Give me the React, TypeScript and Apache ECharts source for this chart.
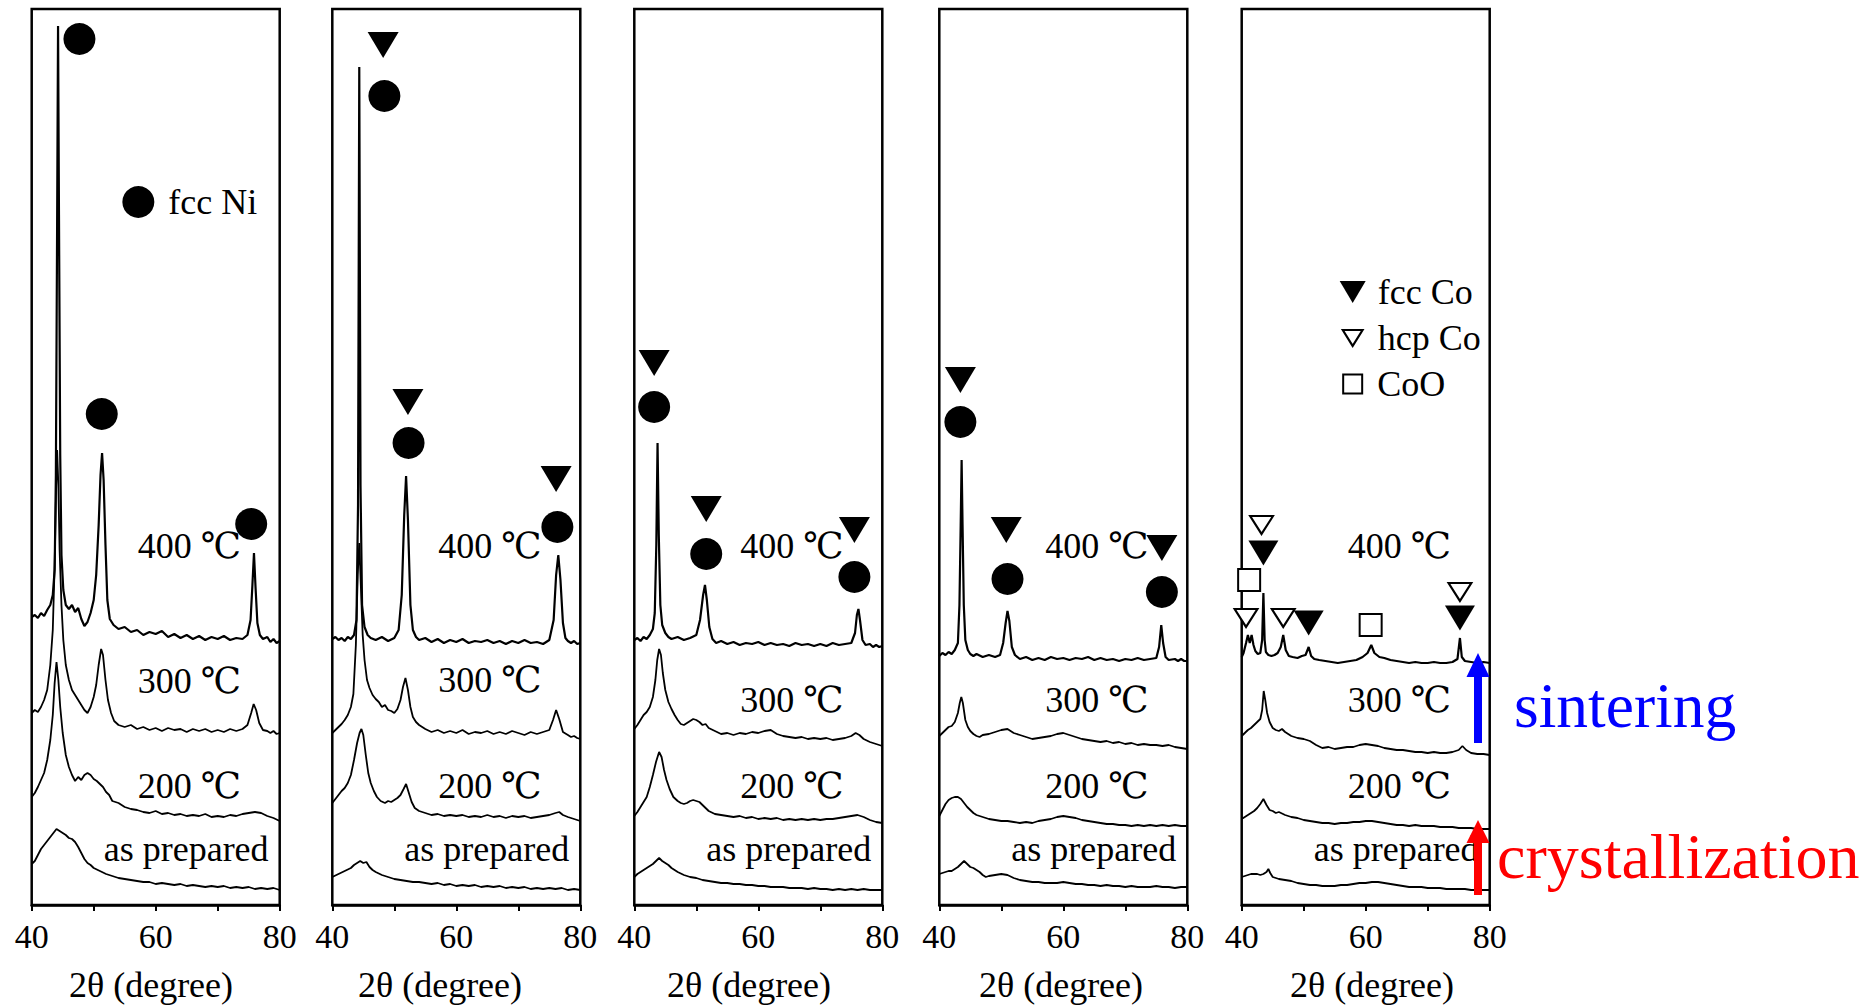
import React, { useEffect, useRef } from "react";
import * as echarts from "echarts";

// ---------- data (2θ in degrees, intensity in arbitrary offset units) ----------
const xTicks = [40, 50, 60, 70, 80];
const tempLabels = ["400 ℃", "300 ℃", "200 ℃", "as prepared"];

const p1_400 = [[40,288],[40.5,290],[41,287],[41.5,292],[42,289],[42.5,295],[43,300],[43.4,310],[43.7,335],[43.9,430],[44.1,680],[44.25,879],[44.4,690],[44.6,450],[44.8,350],[45.1,315],[45.5,300],[46,296],[46.5,300],[47,293],[47.5,297],[48,286],[48.5,279],[49,283],[49.5,292],[50,305],[50.4,330],[50.8,380],[51.1,430],[51.35,452],[51.6,425],[51.9,360],[52.2,305],[52.6,286],[53.2,280],[54,276],[55,278],[56,273],[57,275],[58,270],[59,273],[60,271],[61,274],[62,268],[63,271],[64,267],[65,270],[66,266],[67,269],[68,265],[69,268],[70,266],[71,269],[72,265],[73,267],[74,266],[74.8,270],[75.3,285],[75.6,320],[75.85,352],[76.1,318],[76.4,282],[76.8,270],[77.3,266],[78,268],[78.5,263],[79,266],[79.5,262],[80,264]];
const p1_300 = [[40,192],[40.5,195],[41,193],[41.5,198],[42,205],[42.5,215],[43,240],[43.4,275],[43.7,340],[43.95,420],[44.1,455],[44.3,420],[44.5,355],[44.8,300],[45.1,265],[45.5,240],[46,225],[46.5,215],[47,210],[47.5,205],[48,200],[48.5,195],[49,192],[49.5,198],[50,208],[50.4,220],[50.8,240],[51.2,256],[51.5,250],[51.9,225],[52.3,205],[52.8,192],[53.3,184],[54,180],[55,178],[56,180],[57,176],[58,178],[59,175],[60,177],[61,174],[62,177],[63,175],[64,176],[65,173],[66,176],[67,174],[68,176],[69,173],[70,175],[71,173],[72,176],[73,174],[74,176],[74.8,180],[75.4,192],[75.8,201],[76.2,195],[76.7,182],[77.3,175],[78,174],[78.5,172],[79,174],[79.5,171],[80,172]];
const p1_200 = [[40,108],[40.5,112],[41,118],[41.5,125],[42,132],[42.5,145],[43,165],[43.4,190],[43.7,222],[44,243],[44.3,225],[44.6,198],[45,172],[45.5,150],[46,138],[46.5,130],[47,124],[47.5,128],[48,125],[48.5,130],[49,132],[49.5,130],[50,126],[50.5,124],[51,121],[51.5,118],[52,113],[52.5,110],[53,104],[54,102],[55,98],[56,96],[57,95],[58,93],[59,92],[60,94],[61,91],[62,92],[63,90],[64,91],[65,89],[66,90],[67,89],[68,91],[69,88],[70,89],[71,88],[72,90],[73,89],[74,91],[75,92],[76,93],[77,92],[78,89],[79,87],[80,84]];
const p1_prep = [[40,41],[40.5,44],[41,50],[41.5,56],[42,60],[42.5,64],[43,68],[43.5,72],[44,76],[44.5,74],[45,72],[45.5,70],[46,67],[46.5,66],[47,63],[47.5,58],[48,52],[48.5,46],[49,42],[49.5,40],[50,37],[51,34],[52,31],[53,29],[54,27],[55,26],[56,25],[57,24],[58,23],[59,23],[60,21],[61,22],[62,21],[63,20],[64,21],[65,19],[66,20],[67,19],[68,18],[69,19],[70,18],[71,19],[72,17],[73,18],[74,17],[75,18],[76,16],[77,17],[78,16],[79,17],[80,15]];

const p2_400 = [[40,266],[40.5,268],[41,265],[41.5,267],[42,264],[42.5,268],[43,266],[43.5,270],[43.9,285],[44.15,400],[44.35,838],[44.55,420],[44.8,300],[45.2,278],[45.7,270],[46.2,267],[47,265],[48,268],[49,264],[50,267],[50.7,275],[51.2,310],[51.6,390],[51.9,429],[52.2,385],[52.6,300],[53,275],[53.5,268],[54,265],[55,267],[56,263],[57,266],[58,262],[59,265],[60,263],[61,266],[62,262],[63,264],[64,263],[65,265],[66,262],[67,264],[68,261],[69,264],[70,262],[71,265],[72,262],[73,263],[74,261],[75,265],[75.7,285],[76.1,330],[76.45,350],[76.8,325],[77.2,282],[77.6,267],[78,264],[78.5,262],[79,264],[79.5,261],[80,262]];
const p2_300 = [[40,172],[40.5,175],[41,178],[41.5,181],[42,185],[42.5,190],[43,198],[43.4,211],[43.8,260],[44.1,330],[44.35,362],[44.6,320],[44.9,270],[45.2,245],[45.6,225],[46,217],[46.5,210],[47,206],[47.5,203],[48,198],[48.5,200],[49,195],[49.5,194],[50,192],[50.5,196],[51,205],[51.4,218],[51.8,227],[52.2,215],[52.6,198],[53,188],[53.5,183],[54,180],[55,176],[56,173],[57,175],[58,172],[59,174],[60,172],[61,175],[62,171],[63,173],[64,172],[65,174],[66,171],[67,173],[68,171],[69,174],[70,172],[71,170],[72,173],[73,171],[74,173],[75,175],[75.6,185],[76.1,195],[76.6,186],[77.2,173],[78,170],[78.5,168],[79,169],[79.5,167],[80,166]];
const p2_200 = [[40,102],[40.5,106],[41,110],[41.5,114],[42,117],[42.5,122],[43,130],[43.5,145],[44,162],[44.4,172],[44.7,176],[45,170],[45.4,150],[45.8,132],[46.2,122],[46.7,114],[47.2,108],[47.8,104],[48.5,102],[49,104],[49.5,103],[50,105],[50.5,107],[51,110],[51.5,116],[51.9,121],[52.3,113],[52.8,103],[53.3,97],[54,94],[55,92],[56,90],[57,91],[58,89],[59,90],[60,89],[61,90],[62,88],[63,89],[64,88],[65,90],[66,88],[67,89],[68,87],[69,89],[70,88],[71,89],[72,87],[73,88],[74,89],[75,90],[76,92],[76.6,93],[77.2,90],[78,88],[79,86],[80,84]];
const p2_prep = [[40,28],[41,31],[42,34],[43,37],[43.5,40],[44,42],[44.5,44],[45,42],[45.5,43],[46,38],[46.5,35],[47,33],[48,30],[49,28],[50,26],[51,25],[52,24],[53,23],[54,23],[55,22],[56,21],[57,22],[58,20],[59,21],[60,19],[61,20],[62,19],[63,20],[64,18],[65,19],[66,18],[67,19],[68,17],[69,18],[70,17],[71,18],[72,16],[73,17],[74,16],[75,17],[76,16],[77,17],[78,15],[79,16],[80,15]];

const p3_400 = [[40,265],[40.5,267],[41,264],[41.5,268],[42,266],[42.5,270],[43,276],[43.3,292],[43.55,360],[43.75,462],[43.95,370],[44.2,300],[44.5,280],[45,272],[45.5,268],[46,266],[47,268],[48,265],[49,267],[50,270],[50.6,285],[51.1,310],[51.4,320],[51.7,305],[52.1,278],[52.6,266],[53.2,262],[54,264],[55,261],[56,263],[57,260],[58,262],[59,261],[60,263],[61,260],[62,262],[63,260],[64,261],[65,259],[66,262],[67,260],[68,261],[69,259],[70,261],[71,259],[72,262],[73,260],[74,261],[75,262],[75.6,272],[75.9,290],[76.15,296],[76.4,285],[76.8,265],[77.3,260],[78,261],[78.5,258],[79,260],[79.5,258],[80,259]];
const p3_300 = [[40,176],[40.5,180],[41,185],[41.5,190],[42,193],[42.5,198],[43,208],[43.4,225],[43.7,245],[44,256],[44.3,250],[44.6,232],[45,215],[45.5,203],[46,196],[46.5,190],[47,185],[47.5,181],[48,180],[48.5,182],[49,184],[49.5,186],[50,185],[50.5,183],[51,180],[51.5,181],[52,177],[53,174],[54,171],[55,172],[56,170],[57,172],[58,171],[59,173],[60,172],[61,174],[62,175],[63,171],[64,169],[65,168],[66,167],[67,168],[68,166],[69,167],[70,166],[71,167],[72,165],[73,166],[74,167],[75,169],[75.7,172],[76.3,170],[77,166],[78,163],[79,161],[80,159]];
const p3_200 = [[40,89],[40.5,93],[41,98],[41.5,103],[42,108],[42.5,118],[43,130],[43.5,143],[44,153],[44.4,148],[44.8,135],[45.2,125],[45.7,116],[46.3,108],[47,104],[47.5,102],[48,101],[48.5,102],[49,104],[49.5,105],[50,104],[50.5,103],[51,100],[51.5,97],[52,94],[53,91],[54,90],[55,89],[56,88],[57,89],[58,87],[59,88],[60,86],[61,87],[62,86],[63,87],[64,85],[65,86],[66,85],[67,86],[68,85],[69,86],[70,85],[71,86],[72,86],[73,87],[74,88],[75,89],[76,90],[77,88],[78,85],[79,83],[80,82]];
const p3_prep = [[40,28],[40.5,31],[41,33],[41.5,35],[42,37],[42.5,39],[43,41],[43.5,44],[44,47],[44.5,44],[45,42],[45.5,40],[46,37],[46.5,35],[47,33],[48,30],[49,28],[50,27],[51,25],[52,24],[53,23],[54,22],[55,22],[56,21],[57,21],[58,20],[59,20],[60,19],[61,19],[62,18],[63,18],[64,18],[65,17],[66,17],[67,17],[68,16],[69,17],[70,16],[71,16],[72,15],[73,16],[74,15],[75,16],[76,15],[77,16],[78,15],[79,15],[80,15]];

const p4_400 = [[40,249],[40.5,252],[41,250],[41.5,253],[42,251],[42.5,255],[43,262],[43.25,300],[43.45,380],[43.6,445],[43.75,380],[43.95,300],[44.2,265],[44.6,255],[45,251],[45.5,249],[46,251],[47,248],[48,250],[49,248],[49.8,250],[50.3,262],[50.7,282],[51,294],[51.3,284],[51.7,258],[52.2,250],[53,246],[54,248],[55,245],[56,247],[57,245],[58,248],[59,246],[60,247],[61,245],[62,247],[63,246],[64,248],[65,245],[66,247],[67,245],[68,246],[69,244],[70,246],[71,245],[72,247],[73,245],[74,246],[75,247],[75.45,258],[75.8,280],[76.1,262],[76.5,248],[77,245],[78,246],[78.5,244],[79,246],[79.5,244],[80,244]];
const p4_300 = [[40,169],[40.5,172],[41,175],[41.5,178],[42,179],[42.5,183],[43,192],[43.3,202],[43.55,208],[43.8,202],[44.2,185],[44.6,178],[45,174],[45.5,171],[46,169],[46.5,168],[47,170],[48,171],[49,173],[50,175],[51,176],[52,172],[53,170],[54,168],[55,166],[56,167],[57,168],[58,169],[59,171],[60,172],[61,170],[62,168],[63,166],[64,165],[65,164],[66,163],[67,164],[68,162],[69,163],[70,161],[71,162],[72,160],[73,161],[74,160],[75,160],[76,159],[77,160],[78,158],[79,157],[80,156]];
const p4_200 = [[40,89],[40.5,95],[41,101],[41.5,105],[42,107],[42.5,108],[43,108],[43.5,106],[44,102],[44.5,98],[45,95],[45.5,92],[46,90],[47,88],[48,86],[49,85],[50,84],[51,84],[52,83],[53,82],[54,83],[55,82],[56,84],[57,85],[58,86],[59,88],[60,89],[61,88],[62,87],[63,85],[64,84],[65,83],[66,82],[67,81],[68,81],[69,80],[70,80],[71,79],[72,80],[73,79],[74,80],[75,79],[76,80],[77,79],[78,80],[79,79],[80,79]];
const p4_prep = [[40,31],[40.5,32],[41,33],[41.5,34],[42,34],[42.5,36],[43,38],[43.5,41],[44,44],[44.5,41],[45,38],[45.5,37],[46,35],[46.5,33],[47,30],[47.5,28],[48,29],[49,30],[50,31],[51,30],[52,27],[53,25],[54,24],[55,23],[56,23],[57,22],[58,22],[59,22],[60,23],[61,22],[62,21],[63,21],[64,20],[65,20],[66,19],[67,20],[68,19],[69,19],[70,18],[71,19],[72,18],[73,18],[74,18],[75,19],[76,18],[77,18],[78,17],[79,18],[80,18]];

const p5_400 = [[40,248],[40.3,252],[40.7,262],[41,270],[41.3,262],[41.6,270],[41.9,260],[42.2,254],[42.6,251],[43,252],[43.3,265],[43.5,312],[43.7,265],[43.9,253],[44.3,250],[44.8,249],[45.3,250],[45.8,252],[46.3,258],[46.7,270],[47.1,255],[47.6,249],[48.2,248],[49,247],[49.7,249],[50.3,250],[50.8,258],[51.2,249],[51.7,246],[52.5,245],[53.5,244],[54.5,243],[55.5,242],[56.5,243],[57.5,244],[58.5,245],[59.5,248],[60.3,252],[60.9,260],[61.4,252],[62.2,248],[63,247],[64,245],[65,244],[66,243],[67,242],[68,243],[69,242],[70,242],[71,243],[72,242],[73,242],[74,243],[74.8,246],[75.2,267],[75.5,248],[76,244],[77,243],[78,242],[79,243],[80,242]];
const p5_300 = [[40,169],[40.5,172],[41,175],[41.5,177],[42,180],[42.5,183],[43,186],[43.3,195],[43.55,214],[43.8,205],[44.1,192],[44.5,183],[45,177],[45.5,175],[46,174],[46.5,176],[47,173],[47.5,171],[48,169],[49,167],[50,166],[51,164],[52,160],[53,157],[54,158],[55,156],[56,157],[57,158],[58,158],[59,160],[60,161],[61,160],[62,159],[63,157],[64,156],[65,155],[66,155],[67,154],[68,153],[69,153],[70,152],[71,153],[72,152],[73,152],[74,153],[75,155],[75.6,159],[76.2,155],[77,152],[78,151],[79,151],[80,150]];
const p5_200 = [[40,86],[40.5,88],[41,90],[41.5,92],[42,94],[42.5,97],[43,101],[43.5,106],[44,100],[44.5,95],[45,94],[45.5,92],[46,93],[47,90],[48,88],[49,87],[50,85],[51,84],[52,83],[53,82],[54,82],[55,81],[56,82],[57,82],[58,83],[59,83],[60,84],[61,84],[62,83],[63,82],[64,81],[65,80],[66,80],[67,79],[68,80],[69,79],[70,79],[71,79],[72,78],[73,78],[74,78],[75,77],[76,77],[77,77],[78,76],[79,76],[80,76]];
const p5_prep = [[40,28],[40.5,29],[41,30],[41.5,31],[42,31],[42.5,31],[43,30],[43.5,31],[44,33],[44.3,36],[44.6,32],[45,28],[45.5,27],[46,26],[47,25],[48,24],[49,22],[50,21],[51,20],[52,20],[53,19],[54,19],[55,19],[56,20],[57,20],[58,21],[59,22],[60,22],[61,23],[62,23],[63,22],[64,21],[65,20],[66,19],[67,18],[68,18],[69,18],[70,17],[71,17],[72,17],[73,16],[74,16],[75,16],[76,16],[77,15],[78,15],[79,15],[80,15]];

// phase markers [2θ, height]
const p1_fccNi = [[47.7,866],[51.3,491],[75.4,381]];
const p2_fccCo = [[48.2,860],[52.2,503],[76.1,426]];
const p2_fccNi = [[48.4,809],[52.3,462],[76.3,378]];
const p3_fccCo = [[43.2,542],[51.6,396],[75.5,375]];
const p3_fccNi = [[43.2,498],[51.6,351],[75.5,328]];
const p4_fccCo = [[43.4,525],[50.8,375],[75.9,357]];
const p4_fccNi = [[43.4,483],[51.0,326],[75.9,313]];
const p5_fccCo = [[43.5,352],[50.8,282],[75.2,287]];
const p5_hcpCo = [[43.2,380],[40.7,287],[46.7,287],[75.2,313]];
const p5_CoO = [[41.2,325],[60.8,280]];

// legend entries [2θ, height]
const legendNi = [[57.2,703]];
const legendFccCo = [[57.9,613]];
const legendHcpCo = [[57.9,567]];
const legendCoO = [[57.9,521]];

const panels = [
  { traces: [p1_400, p1_300, p1_200, p1_prep] },
  { traces: [p2_400, p2_300, p2_200, p2_prep] },
  { traces: [p3_400, p3_300, p3_200, p3_prep] },
  { traces: [p4_400, p4_300, p4_200, p4_prep] },
  { traces: [p5_400, p5_300, p5_200, p5_prep] },
];

// ---------- layout ----------
const PANEL_LEFT = [31.7, 332.3, 634.3, 939.3, 1241.7];
const PANEL_W = 248;
const PANEL_TOP = 9;
const PANEL_H = 896;
const TITLE_CX = [151, 440, 749, 1061, 1372];
const LABEL_Y = [
  [546, 681, 786, 849],
  [546, 680, 786, 849],
  [546, 700, 786, 849],
  [546, 700, 786, 849],
  [546, 700, 786, 849],
];
const FONT = "'Liberation Serif', 'DejaVu Serif', serif";

export default function App() {
  const ref = useRef<HTMLDivElement>(null);
  useEffect(() => {
    if (!ref.current) return;
    const chart = echarts.init(ref.current, null, { renderer: "svg" });

    const grid = PANEL_LEFT.map((l) => ({
      left: l, top: PANEL_TOP, width: PANEL_W, height: PANEL_H,
      show: true, borderColor: "#000", borderWidth: 2.5, backgroundColor: "transparent",
      containLabel: false,
    }));
    const xAxis = PANEL_LEFT.map((_, i) => ({
      type: "value", gridIndex: i, min: xTicks[0], max: xTicks[xTicks.length - 1], interval: 10,
      axisLine: { show: true, lineStyle: { color: "#000", width: 2.5 } },
      axisTick: { show: true, length: 6, lineStyle: { color: "#000", width: 2 } },
      splitLine: { show: false },
      axisLabel: {
        show: true, margin: 14, fontSize: 34, fontFamily: FONT, color: "#000",
        showMinLabel: true, showMaxLabel: true,
        formatter: (v: number) => (v % 20 === 0 ? String(v) : ""),
      },
    }));
    const yAxis = PANEL_LEFT.map((_, i) => ({
      type: "value", gridIndex: i, min: 0, max: PANEL_H, show: false,
    }));

    const series: any[] = [];
    panels.forEach((p, i) => {
      p.traces.forEach((t, k) => {
        series.push({
          type: "line", xAxisIndex: i, yAxisIndex: i, data: t, showSymbol: false,
          lineStyle: { color: "#000", width: k === 0 ? 2.2 : 1.8 }, silent: true, z: 2,
        });
      });
    });

    const filledCircle = (i: number, data: number[][], extra: any = {}) => ({
      type: "scatter", xAxisIndex: i, yAxisIndex: i, data, symbol: "circle", symbolSize: 32,
      itemStyle: { color: "#000", opacity: 1 }, z: 5, silent: true, ...extra,
    });
    const filledTri = (i: number, data: number[][], size: number[], extra: any = {}) => ({
      type: "scatter", xAxisIndex: i, yAxisIndex: i, data, symbol: "triangle", symbolRotate: 180,
      symbolSize: size, itemStyle: { color: "#000", opacity: 1 }, z: 5, silent: true, ...extra,
    });
    const hollowTri = (i: number, data: number[][], size: number[], extra: any = {}) => ({
      type: "scatter", xAxisIndex: i, yAxisIndex: i, data, symbol: "triangle", symbolRotate: 180,
      symbolSize: size, itemStyle: { color: "#fff", borderColor: "#000", borderWidth: 2, opacity: 1 }, z: 5, silent: true, ...extra,
    });
    const hollowSq = (i: number, data: number[][], size: number, extra: any = {}) => ({
      type: "scatter", xAxisIndex: i, yAxisIndex: i, data, symbol: "rect",
      symbolSize: size, itemStyle: { color: "#fff", borderColor: "#000", borderWidth: 2, opacity: 1 }, z: 5, silent: true, ...extra,
    });
    const legLabel = (text: string, dist: number) => ({
      label: { show: true, position: "right", distance: dist, formatter: text, fontSize: 36, fontFamily: FONT, color: "#000" },
    });

    series.push(filledCircle(0, p1_fccNi));
    series.push(filledCircle(0, legendNi, legLabel("fcc Ni", 14)));
    series.push(filledTri(1, p2_fccCo, [31, 26]));
    series.push(filledCircle(1, p2_fccNi));
    series.push(filledTri(2, p3_fccCo, [31, 26]));
    series.push(filledCircle(2, p3_fccNi));
    series.push(filledTri(3, p4_fccCo, [31, 26]));
    series.push(filledCircle(3, p4_fccNi));
    series.push(filledTri(4, p5_fccCo, [30, 25]));
    series.push(hollowTri(4, p5_hcpCo, [23, 18]));
    series.push(hollowSq(4, p5_CoO, 22));
    series.push(filledTri(4, legendFccCo, [26, 22], legLabel("fcc Co", 12)));
    series.push(hollowTri(4, legendHcpCo, [20, 16], legLabel("hcp Co", 14)));
    series.push(hollowSq(4, legendCoO, 19, legLabel("CoO", 14)));

    const graphic: any[] = [];
    PANEL_LEFT.forEach((l, i) => {
      tempLabels.forEach((t, k) => {
        graphic.push({
          type: "text", x: l + (k === 3 ? 72 : 106), y: LABEL_Y[i][k], z: 10,
          style: { text: t, fontSize: 36, fontFamily: FONT, fill: "#000", verticalAlign: "middle", align: "left" },
        });
      });
      graphic.push({
        type: "text", x: TITLE_CX[i], y: 985, z: 10,
        style: { text: "2θ (degree)", fontSize: 36, fontFamily: FONT, fill: "#000", verticalAlign: "middle", align: "center" },
      });
    });
    // arrows
    const arrow = (cx: number, tip: number, headBase: number, bottom: number, color: string) => ({
      type: "polygon", z: 20,
      shape: { points: [[cx, tip], [cx + 11.5, headBase], [cx + 4, headBase], [cx + 4, bottom], [cx - 4, bottom], [cx - 4, headBase], [cx - 11.5, headBase]] },
      style: { fill: color },
    });
    graphic.push(arrow(1478, 653, 677, 743, "#0000ff"));
    graphic.push(arrow(1478, 820, 843, 895, "#ff0000"));
    graphic.push({
      type: "text", x: 1514, y: 705, z: 20,
      style: { text: "sintering", fontSize: 63.5, fontFamily: FONT, fill: "#0000ff", verticalAlign: "middle", align: "left" },
    });
    graphic.push({
      type: "text", x: 1497, y: 856, z: 20,
      style: { text: "crystallization", fontSize: 64, fontFamily: FONT, fill: "#ff0000", verticalAlign: "middle", align: "left" },
    });

    chart.setOption({
      animation: false,
      backgroundColor: "#fff",
      grid, xAxis, yAxis, series, graphic,
    });
    return () => chart.dispose();
  }, []);
  return (
    <div
      ref={ref}
      style={{ position: "fixed", left: 0, top: 0, width: 1864, height: 1006, background: "#fff" }}
    />
  );
}
